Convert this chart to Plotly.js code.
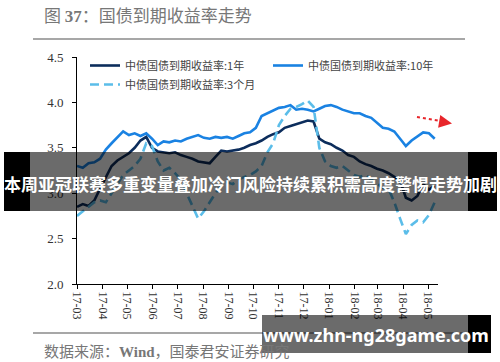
<!DOCTYPE html>
<html>
<head>
<meta charset="utf-8">
<script src="https://cdn.plot.ly/plotly-3.0.1.min.js"></script>
<style>html,body{margin:0;padding:0;background:#fff;}#chart{width:500px;height:362px;}</style>
</head>
<body>
<div id="chart"></div>
<script>
// ---- data ----
var dates = ["2017-03-01","2017-03-08","2017-03-15","2017-03-22","2017-03-29",
"2017-04-05","2017-04-12","2017-04-19","2017-04-26",
"2017-05-03","2017-05-10","2017-05-17","2017-05-24","2017-05-31",
"2017-06-07","2017-06-14","2017-06-21","2017-06-28",
"2017-07-05","2017-07-12","2017-07-19","2017-07-26",
"2017-08-02","2017-08-09","2017-08-16","2017-08-23","2017-08-30",
"2017-09-06","2017-09-13","2017-09-20","2017-09-27",
"2017-10-04","2017-10-11","2017-10-18","2017-10-25",
"2017-11-01","2017-11-08","2017-11-15","2017-11-22","2017-11-29",
"2017-12-06","2017-12-13","2017-12-20","2017-12-27",
"2018-01-03","2018-01-10","2018-01-17","2018-01-24","2018-01-31",
"2018-02-07","2018-02-14","2018-02-21","2018-02-28",
"2018-03-07","2018-03-14","2018-03-21","2018-03-28",
"2018-04-04","2018-04-11","2018-04-18","2018-04-25",
"2018-05-02","2018-05-09"];

var yield1y = [2.85,2.88,2.86,2.92,3.05, 3.18,3.30,3.36,3.40, 3.44,3.50,3.58,3.62,3.50,
3.46,3.45,3.44,3.45, 3.42,3.40,3.38,3.35, 3.34,3.33,3.40,3.47,3.46, 3.47,3.48,3.50,3.53,
3.55,3.58,3.62,3.65, 3.67,3.72,3.74,3.76,3.78, 3.80,3.79,3.60,3.56, 3.54,3.50,3.47,3.42,3.40,
3.35,3.32,3.30,3.27, 3.25,3.22,3.18,3.14, 2.95,2.92,2.97,3.10, 3.04,3.08];

var yield10y = [3.30,3.28,3.33,3.34,3.38, 3.48,3.55,3.62,3.68, 3.64,3.66,3.63,3.66,3.60,
3.53,3.57,3.56,3.58, 3.57,3.60,3.62,3.64, 3.61,3.60,3.62,3.61,3.62, 3.60,3.63,3.66,3.67,
3.72,3.85,3.88,3.91, 3.94,3.95,3.97,3.92,3.93, 3.92,3.90,3.93,3.96, 3.97,3.95,3.92,3.90,3.88,
3.88,3.85,3.83,3.78, 3.72,3.71,3.68,3.60, 3.52,3.58,3.63,3.67, 3.66,3.60];

var yield3m = [2.75,2.80,2.86,2.90,2.92, 2.90,3.00,3.10,3.20, 3.25,3.30,3.38,3.55,3.52,
3.35,3.25,3.28,3.22, 3.15,3.00,2.85,2.72, 2.80,2.90,3.00,3.08,3.12, 3.10,3.15,3.18,3.20,
3.24,3.30,3.45,3.55, 3.75,3.85,3.93,3.95,3.98, 4.02,3.95,3.50,3.35, 3.30,3.28,3.30,3.25,3.20,
3.18,3.20,3.15,3.10, 3.06,3.05,2.90,2.72, 2.55,2.65,2.70,2.68, 2.76,2.90];

var tickDates = ["2017-03-01","2017-04-01","2017-05-01","2017-06-01","2017-07-01","2017-08-01",
"2017-09-01","2017-10-01","2017-11-01","2017-12-01","2018-01-01","2018-02-01","2018-03-01",
"2018-04-01","2018-05-01"];
var tickLabels = ["17-03","17-04","17-05","17-06","17-07","17-08","17-09","17-10","17-11",
"17-12","18-01","18-02","18-03","18-04","18-05"];

var seriesNames = ["中债国债到期收益率:1年","中债国债到期收益率:10年","中债国债到期收益率:3个月"];
var chartTitle = '图 <span style="font-family:Liberation Serif;font-weight:bold">37</span>：国债到期收益率走势';
var sourceText = '数据来源：<span style="font-family:Liberation Serif;font-weight:bold">Wind</span>，国泰君安证券研究';
var bannerText = "本周亚冠联赛多重变量叠加冷门风险持续累积需高度警惕走势加剧";
var siteText = "www.zhn-ng28game.com";

// ---- layout helpers (pixel -> paper) ----
var W = 500, H = 362, L = 77, R = 62, T = 57, B = 78;
var PW = W - L - R, PH = H - T - B;
function X(px){ return (px - L) / PW; }
function Y(py){ return (H - B - py) / PH; }

var cjk = "Noto Sans CJK SC";
var traces = [
  {x: dates, y: yield1y, name: seriesNames[0], type: "scatter", mode: "lines",
   line: {color: "#0c2d5c", width: 2.6}, legend: "legend"},
  {x: dates, y: yield10y, name: seriesNames[1], type: "scatter", mode: "lines",
   line: {color: "#1a82e2", width: 2.6}, legend: "legend2"},
  {x: dates, y: yield3m, name: seriesNames[2], type: "scatter", mode: "lines",
   line: {color: "#5bbde9", width: 2.6, dash: "9px,5px"}, legend: "legend"}
];

var rect = function(x0,x1,y0,y1,fill){
  return {type:"rect", xref:"paper", yref:"paper", x0:X(x0), x1:X(x1), y0:Y(y1), y1:Y(y0),
          fillcolor: fill, line:{width:0}, layer:"above"};
};

var layout = {
  width: W, height: H,
  margin: {l: L, r: R, t: T, b: B},
  paper_bgcolor: "#fff", plot_bgcolor: "#fff",
  showlegend: true,
  legend: {x: X(85), y: Y(51), xanchor: "left", yanchor: "top", orientation: "v",
           bgcolor: "rgba(0,0,0,0)", font: {family: cjk, size: 11, color: "#444"}, itemwidth: 30},
  legend2: {x: X(268), y: Y(51), xanchor: "left", yanchor: "top", orientation: "v",
           bgcolor: "rgba(0,0,0,0)", font: {family: cjk, size: 11, color: "#444"}, itemwidth: 30},
  xaxis: {type: "date", range: ["2017-03-01","2018-05-13"], tickvals: tickDates, ticktext: tickLabels,
          tickangle: 90, showgrid: false, zeroline: false, showline: true, linecolor: "#000", linewidth: 1,
          ticks: "outside", ticklen: 4, tickcolor: "#000",
          tickfont: {family: "Liberation Serif", size: 12, color: "#333"}},
  yaxis: {range: [2, 4.5], dtick: 0.5, tick0: 2, tickformat: ".1f", showgrid: false, zeroline: false,
          showline: true, linecolor: "#000", linewidth: 1, ticks: "outside", ticklen: 4, tickcolor: "#000",
          ticklabelstandoff: 6,
          tickfont: {family: "Liberation Serif", size: 13, color: "#333"}},
  shapes: [
    {type:"line", xref:"paper", yref:"paper", x0:X(33), x1:X(465), y0:Y(39), y1:Y(39), line:{color:"#8a8a8a", width:1.5}},
    {type:"line", xref:"paper", yref:"paper", x0:X(33), x1:X(465), y0:Y(333), y1:Y(333), line:{color:"#8a8a8a", width:1.5}},
    {type:"line", xref:"paper", yref:"paper", x0:X(417), x1:X(444), y0:Y(117), y1:Y(121.5), line:{color:"#e8262b", width:2, dash:"dot"}},
    rect(4,30,152,211,"#000"),
    rect(30,468,152,211,"rgba(0,0,0,0.58)"),
    rect(468,497,152,211,"#000"),
    rect(262,468,315,353,"rgba(0,0,0,0.58)"),
    rect(468,491,315,353,"#000")
  ],
  annotations: [
    {xref:"paper", yref:"paper", x:X(42), y:Y(14), xanchor:"left", yanchor:"middle", showarrow:false,
     text: chartTitle, font:{family: cjk, size: 17, color:"#777"}},
    {xref:"paper", yref:"paper", x:X(42), y:Y(350), xanchor:"left", yanchor:"middle", showarrow:false,
     text: sourceText, font:{family: cjk, size: 15, color:"#777"}},
    {xref:"paper", yref:"paper", x:X(452), y:Y(123.5), ax:-9, ay:-1.5, showarrow:true, text:"",
     arrowhead:2, arrowsize:1.3, arrowwidth:2, arrowcolor:"#e8262b", standoff:0},
    {xref:"paper", yref:"paper", x:X(250.5), y:Y(183), xanchor:"center", yanchor:"middle", showarrow:false,
     text: "<b>" + bannerText + "</b>", font:{family: cjk, size: 17, color:"#fff"}},
    {xref:"paper", yref:"paper", x:X(376), y:Y(335), xanchor:"center", yanchor:"middle", showarrow:false,
     text: "<b>" + siteText + "</b>", font:{family: "Noto Sans", size: 18, color:"#fff"}}
  ]
};

Plotly.newPlot("chart", traces, layout, {staticPlot: true, displayModeBar: false});
</script>
</body>
</html>
